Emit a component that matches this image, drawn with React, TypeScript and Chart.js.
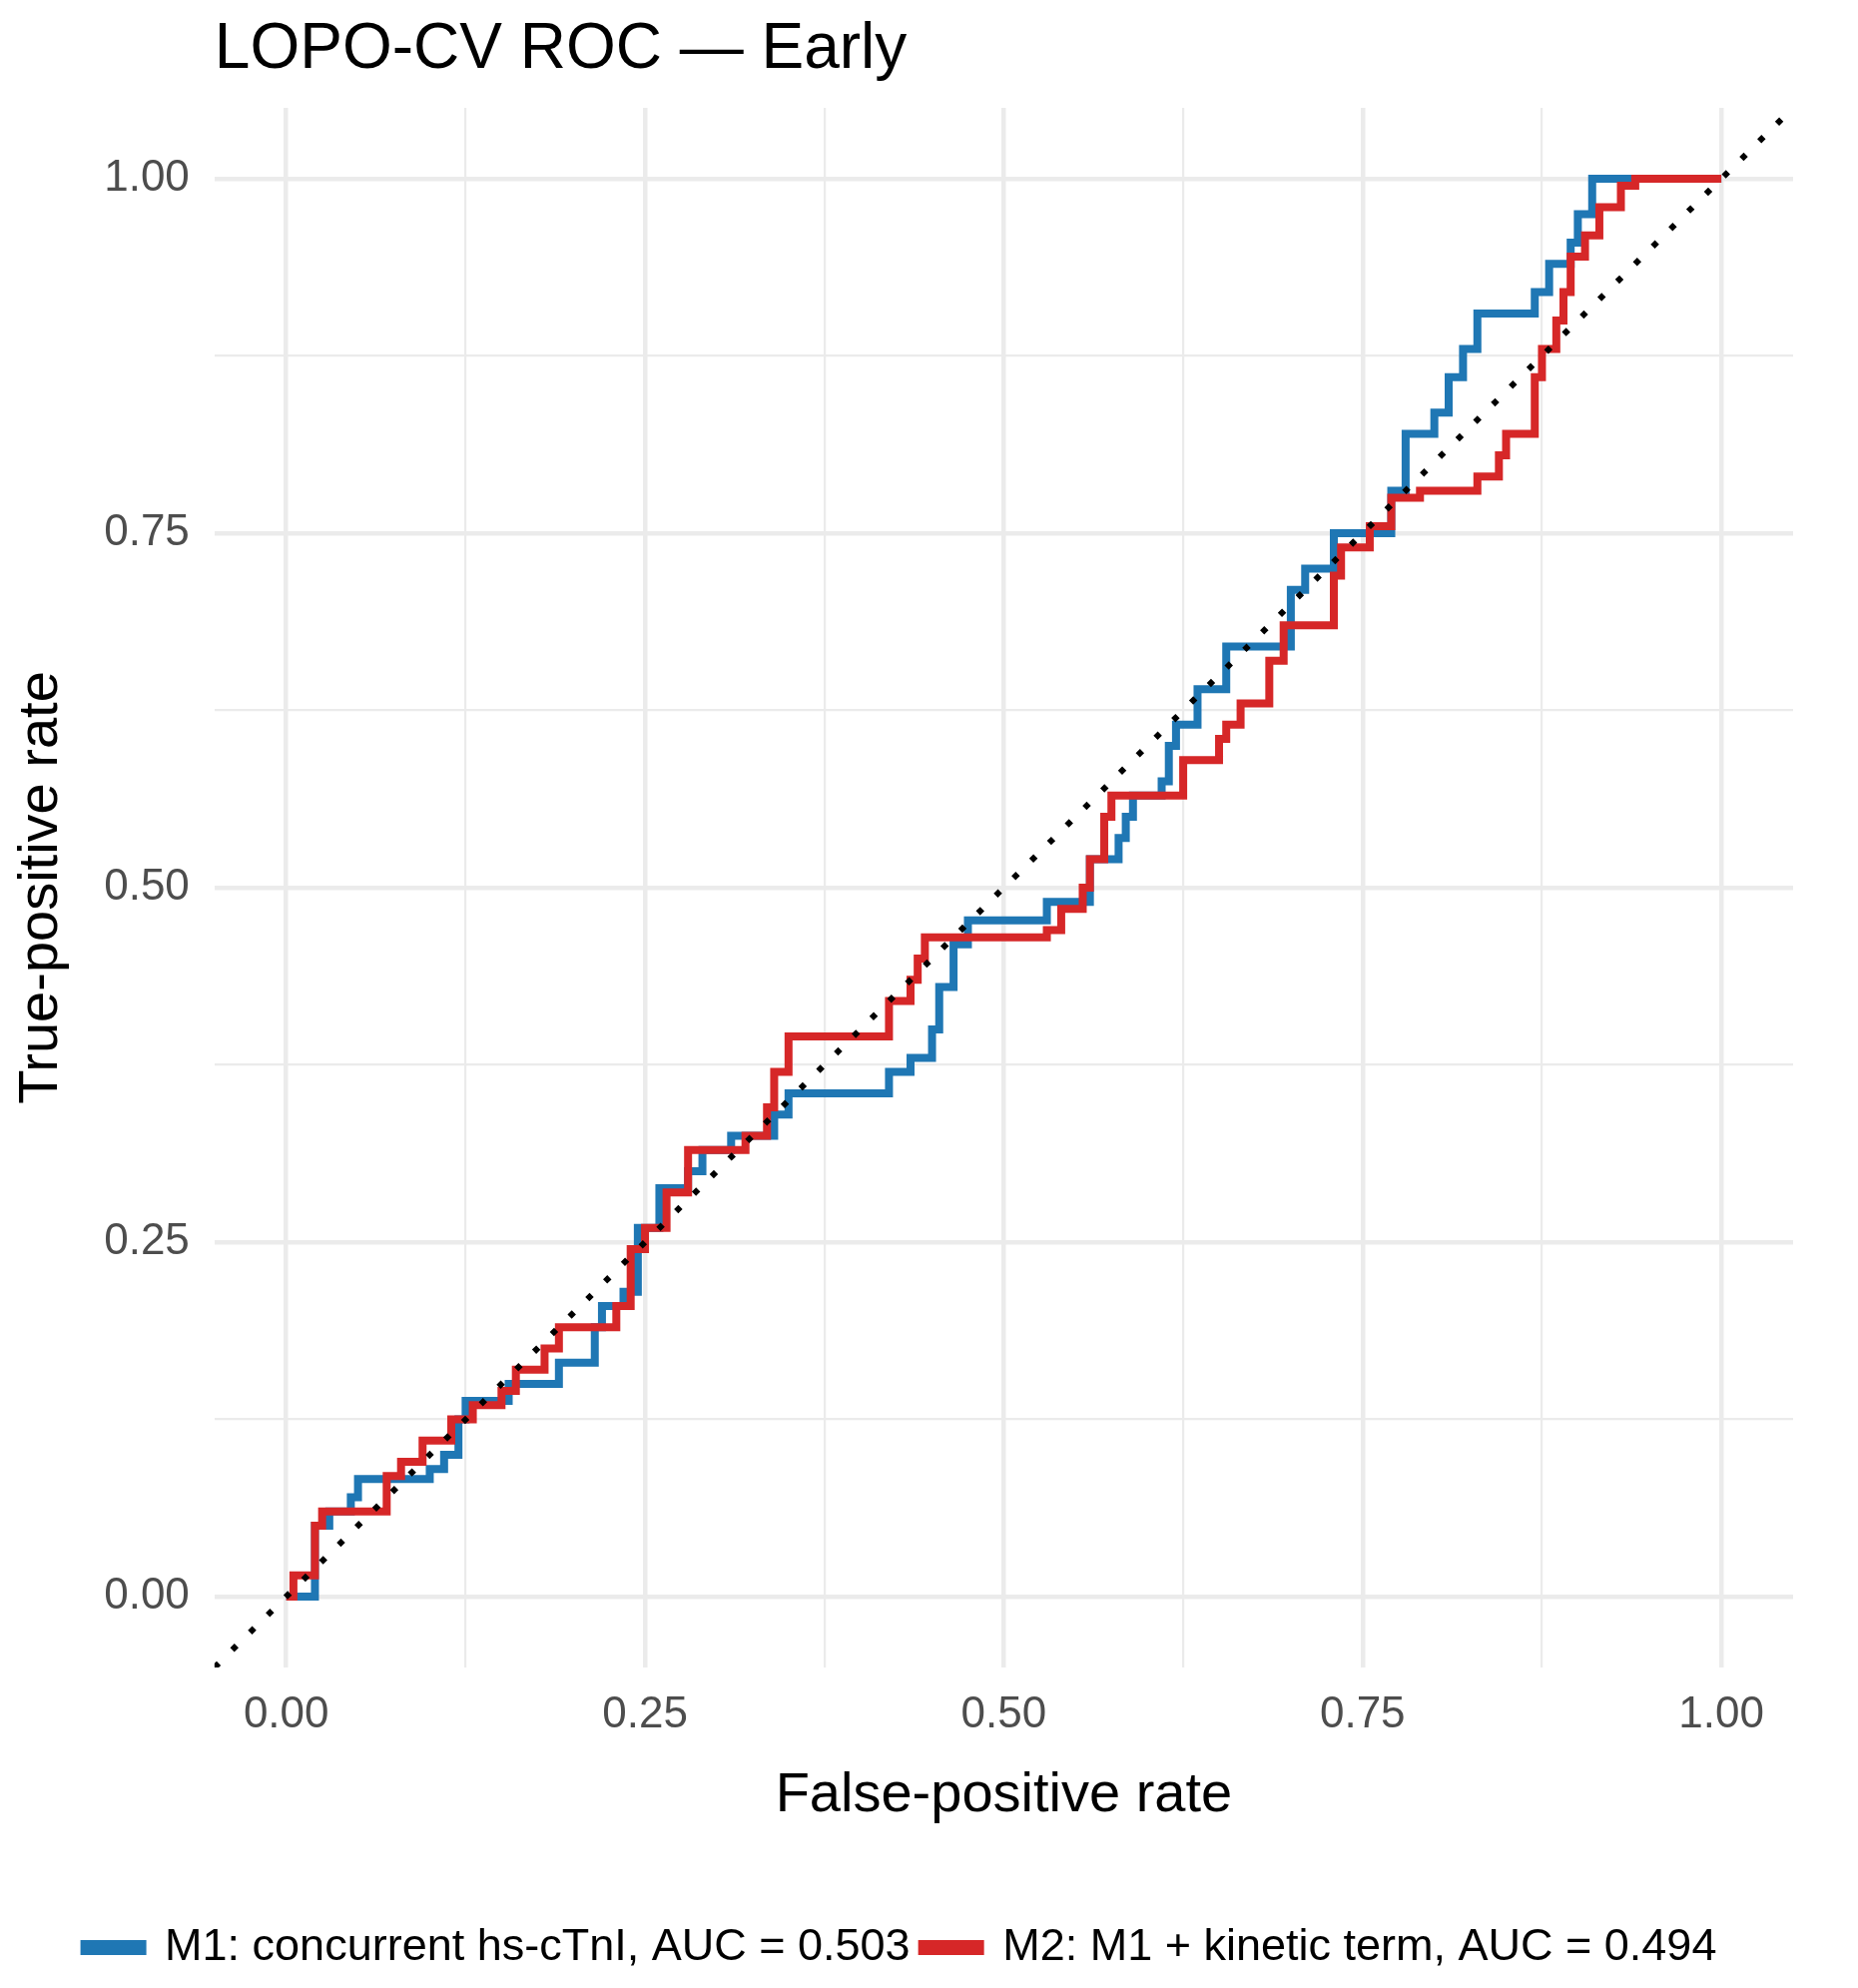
import React, { useEffect, useRef } from "react";
import { Chart, registerables } from "chart.js";
Chart.register(...registerables);

const m1X = [0, 0.02, 0.02, 0.03, 0.045, 0.05, 0.10, 0.11, 0.12, 0.125, 0.155, 0.19, 0.215, 0.22, 0.235, 0.245, 0.26, 0.28, 0.29, 0.31, 0.34, 0.35, 0.42, 0.435, 0.45, 0.455, 0.465, 0.475, 0.53, 0.56, 0.58, 0.585, 0.59, 0.61, 0.615, 0.62, 0.635, 0.655, 0.70, 0.71, 0.73, 0.77, 0.78, 0.80, 0.81, 0.82, 0.83, 0.87, 0.88, 0.895, 0.90, 0.91, 1.0];
const m1Y = [0, 0, 0.05, 0.06, 0.07, 0.083, 0.09, 0.10, 0.125, 0.138, 0.15, 0.165, 0.19, 0.205, 0.215, 0.26, 0.288, 0.30, 0.315, 0.325, 0.34, 0.355, 0.37, 0.38, 0.40, 0.43, 0.46, 0.477, 0.49, 0.52, 0.535, 0.55, 0.565, 0.575, 0.60, 0.615, 0.64, 0.67, 0.71, 0.725, 0.75, 0.78, 0.82, 0.835, 0.86, 0.88, 0.905, 0.92, 0.94, 0.955, 0.975, 1.0, 1.0];
const m2X = [0, 0.005, 0.02, 0.025, 0.07, 0.08, 0.095, 0.115, 0.13, 0.15, 0.16, 0.18, 0.19, 0.23, 0.24, 0.25, 0.265, 0.28, 0.32, 0.335, 0.34, 0.35, 0.42, 0.435, 0.44, 0.445, 0.53, 0.54, 0.555, 0.56, 0.57, 0.575, 0.625, 0.65, 0.655, 0.665, 0.685, 0.695, 0.73, 0.735, 0.755, 0.77, 0.79, 0.83, 0.845, 0.85, 0.87, 0.875, 0.885, 0.89, 0.895, 0.905, 0.915, 0.93, 0.94, 1.0];
const m2Y = [0, 0.015, 0.05, 0.06, 0.085, 0.095, 0.11, 0.125, 0.135, 0.145, 0.16, 0.175, 0.19, 0.205, 0.245, 0.26, 0.285, 0.315, 0.325, 0.345, 0.37, 0.395, 0.42, 0.435, 0.45, 0.465, 0.47, 0.485, 0.50, 0.52, 0.55, 0.565, 0.59, 0.605, 0.615, 0.63, 0.66, 0.685, 0.72, 0.74, 0.755, 0.775, 0.78, 0.79, 0.805, 0.82, 0.86, 0.88, 0.90, 0.92, 0.945, 0.96, 0.98, 0.995, 1.0, 1.0];
const diagX = [-0.05, 1.05];
const labels = ["M1: concurrent hs-cTnI, AUC = 0.503", "M2: M1 + kinetic term, AUC = 0.494"];
const title = "LOPO-CV ROC \u2014 Early";

const FONT = "'Liberation Sans', Arial, sans-serif";

export default function App() {
  const ref = useRef<HTMLCanvasElement>(null);
  useEffect(() => {
    const pts = (xs: number[], ys: number[]) => xs.map((x, i) => ({ x, y: ys[i] }));
    const isMajor = (v: number) => Math.abs(v * 4 - Math.round(v * 4)) < 1e-6;
    const titlePlugin = {
      id: "ttl",
      afterDraw(c: any) {
        const ctx = c.ctx;
        ctx.save();
        ctx.font = `64px ${FONT}`;
        ctx.fillStyle = "#000";
        ctx.textBaseline = "middle";
        ctx.fillText(title, c.chartArea.left, 42);
        ctx.restore();
      },
    };
    const scaleOpts = (t: string, isX: boolean) => ({
      type: "linear" as const,
      min: -0.05,
      max: 1.05,
      afterBuildTicks(s: any) {
        s.ticks = [0, 0.125, 0.25, 0.375, 0.5, 0.625, 0.75, 0.875, 1].map((v) => ({ value: v }));
      },
      border: { display: false },
      grid: {
        color: "#ebebeb",
        lineWidth: (ctx: any) => (isMajor(ctx.tick.value) ? 4.5 : 2.2),
        drawTicks: false,
      },
      ticks: {
        autoSkip: false,
        maxRotation: 0,
        padding: isX ? 21 : 25,
        color: "#4d4d4d",
        font: { size: 44, family: FONT },
        callback: (v: any) => (isMajor(Number(v)) ? Number(v).toFixed(2) : ""),
      },
      title: {
        display: true,
        text: t,
        color: "#000",
        font: { size: 56, family: FONT },
        padding: isX ? { top: 0, bottom: 84 } : { top: 0, bottom: 4 },
      },
    });
    const chart = new Chart(ref.current!, {
      type: "line",
      data: {
        datasets: [
          { label: labels[0], data: pts(m1X, m1Y), borderColor: "#1f77b4", backgroundColor: "#1f77b4", borderWidth: 8, stepped: "before", pointRadius: 0, order: 2 },
          { label: labels[1], data: pts(m2X, m2Y), borderColor: "#d62728", backgroundColor: "#d62728", borderWidth: 8, stepped: "before", pointRadius: 0, order: 1 },
          { label: "diag", data: pts(diagX, diagX), borderColor: "#000", borderWidth: 6, borderDash: [6, 19], pointRadius: 0, order: 0 },
        ],
      },
      options: {
        animation: false,
        responsive: false,
        layout: { padding: { top: 100, left: 0, right: 57, bottom: 0 } },
        scales: { x: scaleOpts("False-positive rate", true), y: scaleOpts("True-positive rate", false) },
        plugins: {
          tooltip: { enabled: false },
          legend: {
            position: "bottom",
            labels: {
              filter: (it: any) => it.text !== "diag",
              sort: (a: any, b: any) => a.datasetIndex - b.datasetIndex,
              boxWidth: 58,
              boxHeight: 7,
              padding: 12,
              color: "#000",
              font: { size: 45, family: FONT },
            },
          },
        },
      },
      plugins: [titlePlugin],
    });
    return () => chart.destroy();
  }, []);
  return <canvas ref={ref} width={1845} height={1975} style={{ display: "block" }} />;
}
